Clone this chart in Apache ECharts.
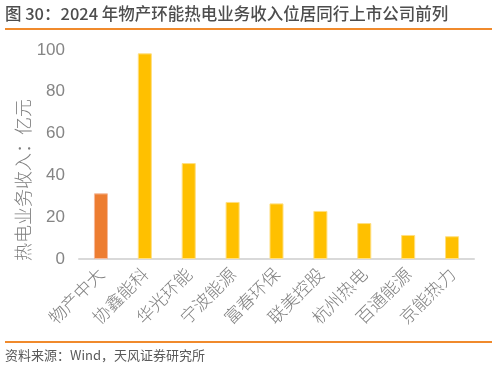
<!DOCTYPE html>
<html><head><meta charset="utf-8">
<script src="https://cdn.jsdelivr.net/npm/echarts@6/dist/echarts.min.js"></script>
<style>html,body{margin:0;padding:0;background:#fff}#c{width:497px;height:372px}</style>
</head><body><div id="c"></div>
<script>
const categories = ['物产中大','协鑫能科','华光环能','宁波能源','富春环保','联美控股','杭州热电','百通能源','京能热力'];
const values = [31.4, 98.4, 45.9, 27.3, 26.6, 23.0, 17.2, 11.5, 10.9];
const highlightIndex = 0;
const yTicks = [0, 20, 40, 60, 80, 100];

const FONT = '"Noto Sans CJK SC", sans-serif';
const chart = echarts.init(document.getElementById('c'), null, {renderer: 'canvas'});
chart.setOption({
  animation: false,
  textStyle: {fontFamily: FONT},
  grid: {left: 79, right: 23, top: 50, bottom: 113},
  xAxis: {
    type: 'category', data: categories,
    axisLine: {lineStyle: {color: '#d9d9d9', width: 2}},
    axisTick: {show: false},
    axisLabel: {rotate: 45, color: '#808080', fontSize: 17.5, fontFamily: FONT, fontWeight: 300, margin: 12, interval: 0}
  },
  yAxis: {
    type: 'value', min: yTicks[0], max: yTicks[yTicks.length-1], interval: 20,
    splitLine: {show: false}, axisLine: {show: false}, axisTick: {show: false},
    axisLabel: {color: '#858585', fontSize: 17, fontFamily: 'Liberation Sans, Arial, sans-serif', margin: 14}
  },
  series: [{
    type: 'bar', barWidth: '32%',
    data: values.map((v, i) => ({value: v, itemStyle: {color: i === highlightIndex ? '#ED7D31' : '#FFC000', borderColor: i === highlightIndex ? '#f6b99a' : '#ffdf80', borderWidth: 1}}))
  }],
  graphic: [
    {type: 'text', left: 5, top: 5, style: {text: '图 30：2024 年物产环能热电业务收入位居同行上市公司前列', font: '500 16.5px ' + FONT, fill: '#4d4d4d'}},
    {type: 'rect', shape: {x: 5, y: 28, width: 487, height: 2}, style: {fill: '#F08A2C'}},
    {type: 'rect', shape: {x: 5, y: 341, width: 487, height: 2}, style: {fill: '#F08A2C'}},
    {type: 'text', left: 5, top: 349, style: {text: '资料来源：Wind，天风证券研究所', font: '13px ' + FONT, fill: '#595959'}},
    {type: 'text', x: 23, y: 180, rotation: Math.PI/2, style: {text: '热电业务收入：亿元', font: '300 18px ' + FONT, fill: '#7f7f7f', align: 'center', verticalAlign: 'middle'}}
  ]
});
</script></body></html>
